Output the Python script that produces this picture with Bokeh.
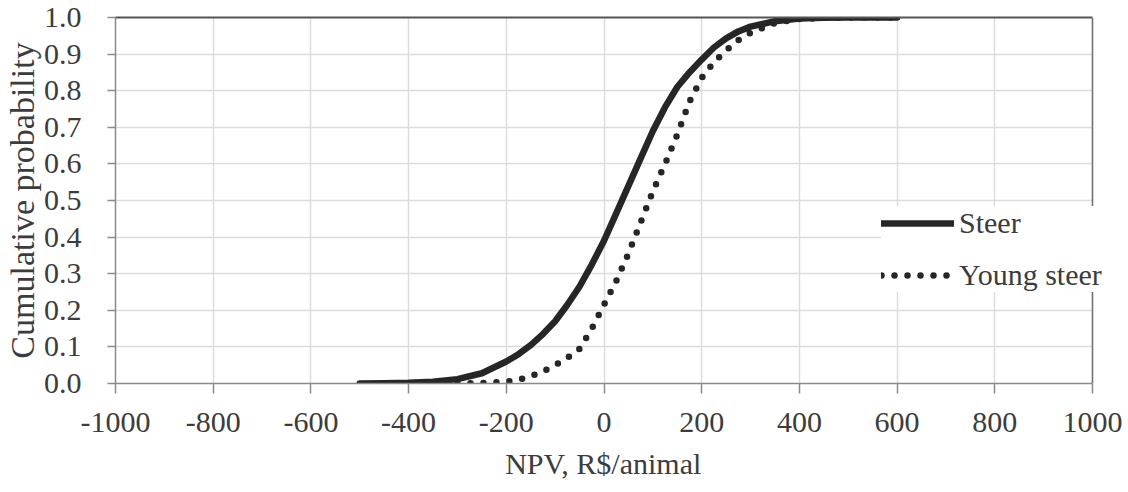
from bokeh.plotting import figure
from bokeh.models import (Legend, LegendItem, FixedTicker, ColumnDataSource, CustomJSTickFormatter,
                          Span, BoxAnnotation, LinearAxis)
from bokeh.embed import file_html
from bokeh.resources import INLINE

# Data
steer_x = [-500, -450, -400, -350, -300, -250, -200, -175, -150, -125, -100, -75, -50, -25, 0, 25, 50, 75, 100,
           125, 150, 175, 200, 225, 250, 275, 300, 350, 400, 450, 500, 600]
steer_p = [0.0, 0.001, 0.002, 0.005, 0.012, 0.028, 0.06, 0.08, 0.105, 0.135, 0.17, 0.215, 0.265, 0.325, 0.39,
           0.465, 0.54, 0.615, 0.69, 0.755, 0.81, 0.85, 0.885, 0.918, 0.943, 0.962, 0.975, 0.99, 0.997, 0.999, 1.0, 1.0]
young_x = [-300, -250, -200, -175, -150, -125, -100, -75, -50, -25, 0, 25, 50, 75, 100, 125, 150, 175, 200,
           225, 250, 275, 300, 350, 400, 450, 500, 600]
young_p = [0.0, 0.001, 0.005, 0.01, 0.02, 0.033, 0.05, 0.07, 0.095, 0.15, 0.215, 0.28, 0.355, 0.44, 0.525, 0.6,
           0.68, 0.77, 0.835, 0.878, 0.91, 0.938, 0.958, 0.985, 0.996, 0.999, 1.0, 1.0]
x_ticks = [-1000, -800, -600, -400, -200, 0, 200, 400, 600, 800, 1000]
y_ticks = [0.0, 0.1, 0.2, 0.3, 0.4, 0.5, 0.6, 0.7, 0.8, 0.9, 1.0]
series_names = ["Steer", "Young steer"]
x_min, x_max = -1000, 1000

FONT = "Liberation Serif"
TXT = "#3c3c3c"

LEFT = 115
PLOT_W = 1128
AXIS_PX = 977  # pixel width of the -1000..1000 axis
x_end = x_min + (x_max - x_min) * (PLOT_W - LEFT) / AXIS_PX

p = figure(width=PLOT_W, height=492, output_backend="svg", toolbar_location=None,
           x_range=(x_min, x_end), y_range=(0, 1.0),
           min_border_left=LEFT, min_border_right=0, min_border_top=17, min_border_bottom=109)
p.background_fill_color = "white"
p.border_fill_color = "white"
p.outline_line_color = None

src_s = ColumnDataSource(dict(x=steer_x, y=steer_p))
src_y = ColumnDataSource(dict(x=young_x, y=young_p))
r1 = p.line("x", "y", source=src_s, line_color="#262626", line_width=6.5, line_cap="round", line_join="round")
r2 = p.line("x", "y", source=src_y, line_color="#262626", line_width=6.5, line_dash="0 13", line_cap="round")

for ax in (p.xaxis[0], p.yaxis[0]):
    ax.major_label_text_font = FONT
    ax.major_label_text_font_size = "30px"
    ax.major_label_text_color = TXT
    ax.axis_label_text_font = FONT
    ax.axis_label_text_font_size = "30px"
    ax.axis_label_text_color = TXT
    ax.axis_label_text_font_style = "normal"
    ax.axis_line_color = "#8a8a8a"
    ax.axis_line_width = 1.5
    ax.major_tick_line_color = "#8a8a8a"
    ax.major_tick_line_width = 1.5
    ax.major_tick_in = 0
    ax.minor_tick_line_color = None

p.xaxis.bounds = (x_min, x_max)
p.yaxis.axis_label_text_font_size = "34px"
p.xaxis.ticker = FixedTicker(ticks=x_ticks)
p.yaxis.ticker = FixedTicker(ticks=y_ticks)
p.xaxis.major_tick_out = 10
p.yaxis.major_tick_out = 8
p.xaxis.major_label_standoff = 19
p.yaxis.major_label_standoff = 26
p.xaxis.formatter = CustomJSTickFormatter(code="return tick.toFixed(0);")
p.yaxis.formatter = CustomJSTickFormatter(code="return tick.toFixed(1);")
# trailing no-break spaces keep the title centred under the -1000..1000 axis
p.xaxis.axis_label = "NPV, R$/animal" + "\u00a0" * 5
p.yaxis.axis_label = "Cumulative probability"
p.xaxis.axis_label_standoff = 12
p.yaxis.axis_label_standoff = 0

# top border of the plot area
top_axis = LinearAxis(ticker=FixedTicker(ticks=[]), bounds=(x_min, x_max),
                      axis_line_color="#555555", axis_line_width=2,
                      major_tick_line_color=None, minor_tick_line_color=None,
                      major_label_text_font_size="0px")
p.add_layout(top_axis, "above")

p.xgrid.ticker = FixedTicker(ticks=x_ticks)
p.ygrid.ticker = FixedTicker(ticks=y_ticks)
p.xgrid.grid_line_color = "#dcdcdc"
p.ygrid.grid_line_color = "#dcdcdc"
p.xgrid.grid_line_width = 1.5
p.ygrid.grid_line_width = 1.5

# white out beyond the right edge of the axis, then draw the right border
p.add_layout(BoxAnnotation(left=x_max, fill_color="white", fill_alpha=1.0, line_color=None))
p.add_layout(Span(location=x_max, dimension="height", line_color="#6e6e6e", line_width=1.5))

legend = Legend(items=[LegendItem(label=series_names[0], renderers=[r1]),
                       LegendItem(label=series_names[1], renderers=[r2])],
                location=(766, 91), margin=0, padding=10, spacing=18,
                glyph_width=73, glyph_height=30, label_height=30, label_standoff=5,
                label_text_font=FONT, label_text_font_size="30px", label_text_color=TXT,
                border_line_color=None, background_fill_color="white", background_fill_alpha=1.0)
legend.level = "overlay"
p.add_layout(legend, "center")

open("out.html", "w").write(file_html(p, INLINE))
